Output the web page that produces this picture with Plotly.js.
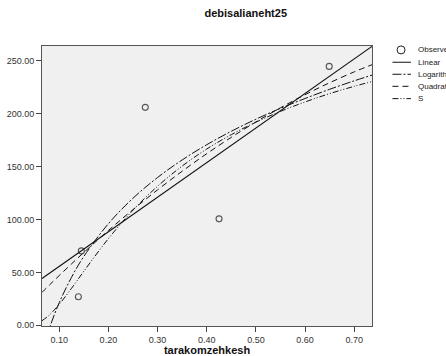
<!DOCTYPE html>
<html><head><meta charset="utf-8">
<script src="https://cdn.plot.ly/plotly-3.0.1.min.js"></script>
<style>body{margin:0;padding:0;background:#fff}#chart{width:446px;height:356px}</style>
</head><body><div id="chart"></div>
<script>
// Observed points
var obsX = [0.139, 0.145, 0.275, 0.425, 0.649];
var obsY = [27.0, 70.3, 206.0, 100.6, 244.7];
// Fitted curves, read at sample x positions
var fitX = [0.065, 0.08, 0.10, 0.125, 0.15, 0.20, 0.25, 0.30, 0.35, 0.40, 0.45, 0.50, 0.55, 0.60, 0.65, 0.70, 0.736];
var linearY = [44.2, 49.1, 55.6, 63.8, 72.0, 88.3, 104.7, 121.0, 137.4, 153.7, 170.1, 186.5, 202.8, 219.2, 235.5, 251.9, 263.6];
var logY = [-25.1, -2.8, 21.3, 45.3, 65.0, 96.0, 120.1, 139.7, 156.3, 170.7, 183.4, 194.8, 205.1, 214.4, 223.1, 231.1, 236.5];
var quadY = [31.1, 38.0, 47.0, 58.0, 68.8, 89.6, 109.3, 128.0, 145.6, 162.2, 177.7, 192.2, 205.6, 218.0, 229.3, 239.6, 246.3];
var sY = [4.3, 9.7, 19.8, 34.9, 51.0, 81.9, 108.8, 131.4, 150.5, 166.6, 180.2, 192.0, 202.2, 211.1, 219.0, 225.9, 230.4];
var seriesNames = ["Observed", "Linear", "Logarithmic", "Quadratic", "S"];

var dashes = ["solid", "solid", "9px,2px,2px,2px", "6px,4px", "6px,2px,1px,2px,1px,2px"];

var traces = [
  {x: obsX, y: obsY, mode: "markers", name: seriesNames[0], showlegend: false,
   marker: {symbol: "circle-open", size: 6, color: "#555", line: {width: 1.1, color: "#555"}}},
  {x: fitX, y: linearY, mode: "lines", name: seriesNames[1], showlegend: false, line: {color: "#111", width: 1.1}},
  {x: fitX, y: logY, mode: "lines", name: seriesNames[2], showlegend: false, line: {color: "#111", width: 1, shape: "spline", dash: dashes[2]}},
  {x: fitX, y: quadY, mode: "lines", name: seriesNames[3], showlegend: false, line: {color: "#111", width: 1, shape: "spline", dash: dashes[3]}},
  {x: fitX, y: sY, mode: "lines", name: seriesNames[4], showlegend: false, line: {color: "#111", width: 1, shape: "spline", dash: dashes[4]}}
];

// legend drawn as shapes + annotations (rows 12px apart)
var legY = [0.986, 0.942, 0.899, 0.856, 0.812];
var shapes = [];
var annotations = [];
for (var i = 0; i < seriesNames.length; i++) {
  if (i === 0) {
    shapes.push({type: "circle", xref: "paper", yref: "paper", xsizemode: "pixel", ysizemode: "pixel",
      xanchor: 1.088, yanchor: legY[i], x0: -4, x1: 4, y0: -4, y1: 4,
      line: {color: "#222", width: 1}, fillcolor: "rgba(0,0,0,0)"});
  } else {
    shapes.push({type: "line", xref: "paper", yref: "paper", x0: 1.062, x1: 1.118, y0: legY[i], y1: legY[i],
      line: {color: "#111", width: 1, dash: dashes[i]}});
  }
  annotations.push({xref: "paper", yref: "paper", x: 1.134, y: legY[i], xanchor: "left", yanchor: "middle",
    text: seriesNames[i], showarrow: false, font: {size: 8, color: "#222"}});
}

var layout = {
  width: 446, height: 356,
  margin: {l: 42, r: 74, t: 46, b: 30, pad: 0, autoexpand: false},
  paper_bgcolor: "#ffffff", plot_bgcolor: "#f0f0f0",
  font: {family: "Liberation Sans, Arial, sans-serif", size: 9, color: "#333"},
  title: {text: "<b>debisalianeht25</b>", font: {size: 11, color: "#111"}, x: 0.551, xanchor: "center", y: 0.962, yanchor: "middle"},
  showlegend: false,
  shapes: shapes,
  annotations: annotations,
  xaxis: {range: [0.065, 0.736], tick0: 0.1, dtick: 0.1, tickformat: ".2f",
          showgrid: false, zeroline: false, ticks: "outside", ticklen: 5, tickcolor: "#444",
          showline: true, linecolor: "#555", linewidth: 1, mirror: true,
          title: {text: "<b>tarakomzehkesh</b>", font: {size: 11, color: "#111"}, standoff: 2}},
  yaxis: {range: [-0.7, 264], tick0: 0, dtick: 50, tickformat: ".2f",
          showgrid: false, zeroline: false, ticks: "outside", ticklen: 5, tickcolor: "#444",
          showline: true, linecolor: "#555", linewidth: 1, mirror: true}
};
Plotly.newPlot("chart", traces, layout, {staticPlot: true});
</script></body></html>
